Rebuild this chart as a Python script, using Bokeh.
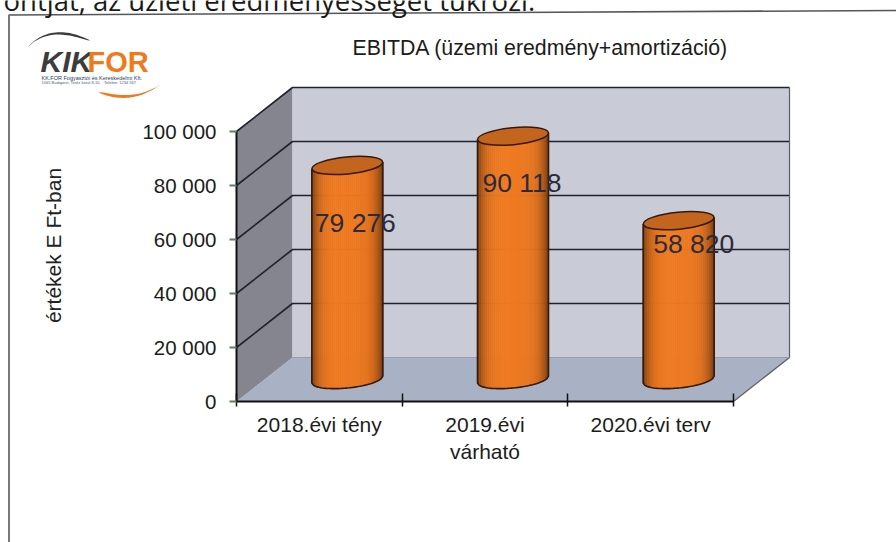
import numpy as np
from bokeh.embed import file_html
from bokeh.resources import INLINE
from bokeh.plotting import figure
from bokeh.models import FixedTicker, LinearAxis, Range1d
from bokeh.core.properties import value

# Chart data
categories = ["2018.évi tény", "2019.évi\nvárható", "2020.évi terv"]
ebitda = [79276, 90118, 58820]
value_labels = ["79 276", "90 118", "58 820"]
y_ticks = [0, 20000, 40000, 60000, 80000, 100000]
y_tick_labels = ["0", "20 000", "40 000", "60 000", "80 000", "100 000"]

W, H = 896, 542
ORIGIN_X, ORIGIN_Y = 236, 401     # where the front corner of the box sits on the page
PX_PER_CAT = 165.67
PX_PER_VAL = 0.0027
DEPTH_X = 56 / PX_PER_CAT
DEPTH_Y = 44 / PX_PER_VAL
RX, RY, TILT_DEG = 35.5, 8.5, -5.5
FONT = "Liberation Sans"


def px(x):
    return (np.asarray(x, dtype=float) - ORIGIN_X) / PX_PER_CAT


def py(y):
    return (ORIGIN_Y - np.asarray(y, dtype=float)) / PX_PER_VAL


p = figure(
    width=W, height=H, output_backend="svg", toolbar_location=None,
    min_border=0, x_axis_type=None, y_axis_type=None,
    x_range=Range1d(float(px(0)), float(px(W))),
    y_range=Range1d(float(py(H)), float(py(0))),
    outline_line_color=None, background_fill_color="white", border_fill_color="white",
)
p.grid.visible = False

n = len(categories)
y_top = y_ticks[-1]

# Floor and side wall of the 3D box
p.patch([0, n, n + DEPTH_X, DEPTH_X], [0, 0, DEPTH_Y, DEPTH_Y],
        fill_color="#a9b2c5", line_color=None)
p.patch([0, DEPTH_X, DEPTH_X, 0], [0, DEPTH_Y, y_top + DEPTH_Y, y_top],
        fill_color="#84858f", line_color=None)
# Back wall
p.quad(left=DEPTH_X, right=n + DEPTH_X, bottom=DEPTH_Y, top=y_top + DEPTH_Y,
       fill_color="#c9cbd7", line_color=None)

# Gridlines wrap from the side wall on to the back wall
p.multi_line(
    [[0, DEPTH_X, n + DEPTH_X] for _ in y_ticks[1:]],
    [[v, v + DEPTH_Y, v + DEPTH_Y] for v in y_ticks[1:]],
    line_color="#1e232e", line_width=1.6,
)
p.line([n, n + DEPTH_X, n + DEPTH_X], [0, DEPTH_Y, y_top + DEPTH_Y],
       line_color="#5b5e68", line_width=1.2)
p.line([DEPTH_X, n + DEPTH_X], [DEPTH_Y, DEPTH_Y], line_color="#9a9ca6", line_width=1)


# Cylinders: vertical strips give the rounded shading
def strip_color(t):
    shade = 1 - 0.5 * abs(t) ** 5
    shade *= 1 + 0.04 * (1 - abs(t + 0.2))
    return "#%02x%02x%02x" % (min(255, int(232 * shade)), int(118 * shade), int(32 * shade))


tilt = np.tan(np.radians(-TILT_DEG)) * RX / PX_PER_VAL
ry_val = RY / PX_PER_VAL
rx_cat = RX / PX_PER_CAT
edges = np.linspace(-1, 1, 37)
for i, v in enumerate(ebitda):
    cx = i + 0.5 + DEPTH_X / 2
    base = DEPTH_Y / 2
    top = v + DEPTH_Y / 2
    xs, ys, colors = [], [], []
    for a, b in zip(edges[:-1], edges[1:]):
        tt = np.linspace(a, b, 4)
        low = base + tilt * tt - ry_val * np.sqrt(np.clip(1 - tt ** 2, 0, 1))
        xs.append(list(cx + rx_cat * tt) + [cx + rx_cat * b, cx + rx_cat * a])
        ys.append(list(low) + [top + tilt * b, top + tilt * a])
        colors.append(strip_color((a + b) / 2))
    p.patches(xs, ys, fill_color=colors, line_color=colors, line_width=0.6)
    # Silhouette
    tt = np.linspace(-1, 1, 41)
    low = base + tilt * tt - ry_val * np.sqrt(np.clip(1 - tt ** 2, 0, 1))
    p.line([cx - rx_cat] + list(cx + rx_cat * tt) + [cx + rx_cat],
           [top - tilt] + list(low) + [top + tilt],
           line_color="#35190c", line_width=1.6)
    # Top cap
    p.ellipse(x=[cx], y=[top], width=[2 * RX], height=[2 * RY],
              width_units="screen", height_units="screen",
              angle=[np.radians(-TILT_DEG)],
              fill_color="#c4651f", line_color="#35190c", line_width=1.5)

# Value labels sit on the cylinders, each nudged off its top
label_nudges = [(8, 58), (9, 47), (15, 23)]
for i, (v, txt) in enumerate(zip(ebitda, value_labels)):
    dx, dy = label_nudges[i]
    p.text(x=[i + 0.5 + DEPTH_X / 2], y=[v + DEPTH_Y / 2], text=[txt],
           x_offset=dx, y_offset=dy, text_align="center", text_baseline="middle",
           text_font=value(FONT), text_font_size="26.5px", text_color="#2c2a38")

# Axes, pinned to the front edges of the box
yax = LinearAxis(fixed_location=0, ticker=FixedTicker(ticks=y_ticks), bounds=(0, y_top))
yax.major_label_overrides = {t: s for t, s in zip(y_ticks, y_tick_labels)}
yax.axis_line_color = "#111111"
yax.axis_line_width = 2
yax.major_tick_in = 0
yax.major_tick_out = 7
yax.major_tick_line_color = "#5f7f5f"
yax.major_tick_line_width = 2
yax.minor_tick_line_color = None
yax.major_label_standoff = 13
yax.major_label_text_font = FONT
yax.major_label_text_font_size = "20.5px"
yax.major_label_text_color = "#1c1c1c"
p.add_layout(yax, "left")

centres = [i + 0.5 for i in range(n)]
xax = LinearAxis(fixed_location=0, bounds=(0, n),
                 ticker=FixedTicker(ticks=centres, minor_ticks=list(range(n + 1))))
xax.major_label_overrides = {c: s for c, s in zip(centres, categories)}
xax.axis_line_color = "#111111"
xax.axis_line_width = 2
xax.major_tick_line_color = None
xax.minor_tick_line_color = "#111111"
xax.minor_tick_line_width = 1.5
xax.minor_tick_in = 8
xax.minor_tick_out = 5
xax.major_label_standoff = 5
xax.major_label_text_font = FONT
xax.major_label_text_font_size = "21px"
xax.major_label_text_color = "#1c1c1c"
p.add_layout(xax, "below")


# Surroundings placed in page pixels: outer box, headings, logo
def page_text(x, y, text, font=FONT, size="20px", color="#1c1c1c", align="left",
              baseline="middle", style="normal", angle=0.0):
    p.text(x=[float(px(x))], y=[float(py(y))], text=[text], text_font=value(font),
           text_font_size=size, text_color=color, text_align=align, text_baseline=baseline,
           text_font_style=style, angle=angle)


p.line(px([8, 896]), py([14.5, 10]), line_color="#55565a", line_width=1.6)
p.line(px([8.5, 8.5]), py([14.5, 542]), line_color="#77787c", line_width=2)

page_text(540, 47, "EBITDA (üzemi eredmény+amortizáció)", size="21.3px", align="center")
page_text(53, 245, "értékek E Ft-ban", size="21px", align="center", angle=np.pi / 2, color="#222222")
page_text(3, -0.5, "ontját, az üzleti eredményességet tükrözi.", font="Open Sans", size="27.5px",
          color="#1a1a1a", baseline="alphabetic")


def crescent(p0, c, p1, width):
    t = np.linspace(0, 1, 30)
    x = (1 - t) ** 2 * p0[0] + 2 * t * (1 - t) * c[0] + t ** 2 * p1[0]
    y = (1 - t) ** 2 * p0[1] + 2 * t * (1 - t) * c[1] + t ** 2 * p1[1]
    off = width * np.sin(np.pi * t ** 0.6)
    return px(np.r_[x, x[::-1]]), py(np.r_[y, (y + off)[::-1]])


xs_, ys_ = crescent((90, 40), (50, 20), (26, 48), 2.5)
p.patch(xs_, ys_, fill_color="#3a3a3c", line_color=None)
xs_, ys_ = crescent((98, 92), (130, 106), (160, 84), -3)
p.patch(xs_, ys_, fill_color="#ee7a1c", line_color=None)
page_text(40, 61, "KIK", size="30px", color="#3c3c3e", style="bold italic")
page_text(87, 61, "FOR", size="29px", color="#ee7a1c", style="bold")
page_text(41, 77, "KK.FOR Fogyasztói és Kereskedelmi Kft.", size="5.5px", color="#2a3a66")
page_text(41, 82, "1065 Budapest, Teréz körút 8-10. · Telefon: 1234 567", size="4px", color="#4a5a86")

open("out.html", "w").write(file_html(p, INLINE))
